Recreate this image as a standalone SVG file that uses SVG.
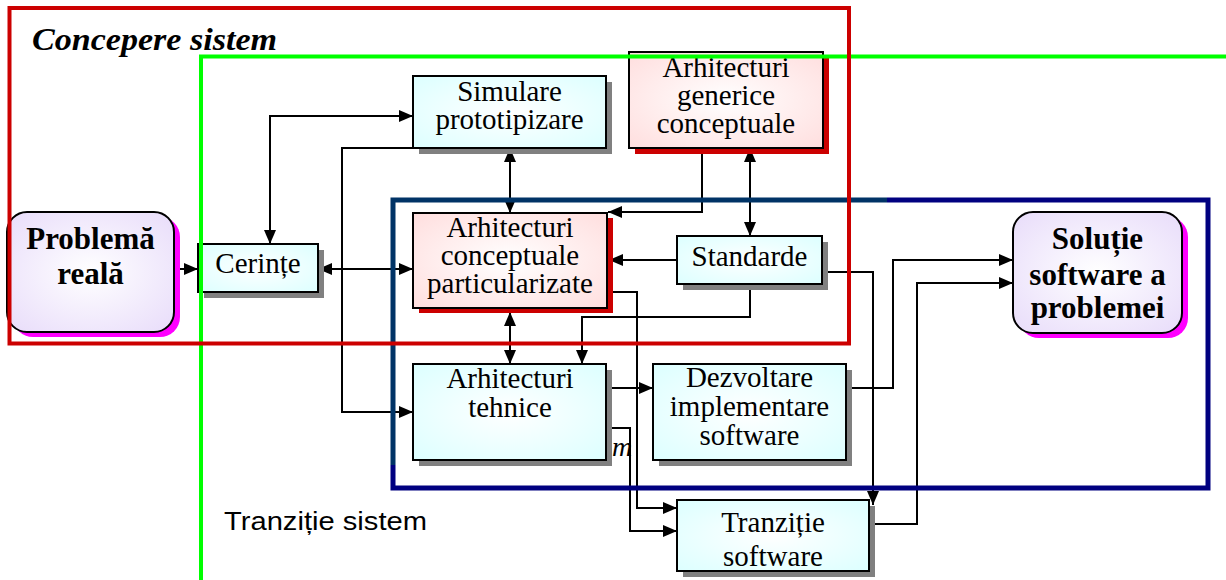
<svg xmlns="http://www.w3.org/2000/svg" width="1226" height="580" viewBox="0 0 1226 580">
  <style>
    .conn { fill: none; stroke: #000; stroke-width: 2; }
    .box { stroke: #000; stroke-width: 2; }
    .cyan { fill: url(#gCyan); }
    .pink { fill: url(#gPink); }
    .lav { fill: url(#gLav); }
    .sh-gray { fill: #808080; }
    .sh-red { fill: #cc0000; }
    .sh-mag { fill: #ff00ff; }
    .t { font-family: "Liberation Serif", "Times New Roman", serif; font-size: 29px; fill: #000; text-anchor: middle; }
    .tb { font-family: "Liberation Serif", "Times New Roman", serif; font-size: 31px; font-weight: bold; fill: #000; text-anchor: middle; }
    .frame { fill: none; }
  </style>
  <defs>
    <radialGradient id="gCyan" cx="50%" cy="50%" r="70%">
      <stop offset="0" stop-color="#ffffff"/>
      <stop offset="1" stop-color="#dcffff"/>
    </radialGradient>
    <radialGradient id="gPink" cx="50%" cy="50%" r="70%">
      <stop offset="0" stop-color="#ffffff"/>
      <stop offset="1" stop-color="#ffdede"/>
    </radialGradient>
    <radialGradient id="gLav" cx="50%" cy="50%" r="70%">
      <stop offset="0" stop-color="#ffffff"/>
      <stop offset="1" stop-color="#e8dcfa"/>
    </radialGradient>
    <marker id="arr" viewBox="0 0 14 12" refX="14" refY="6" markerWidth="14" markerHeight="12" markerUnits="userSpaceOnUse" orient="auto-start-reverse">
      <path d="M0,0 L14,6 L0,12 z" fill="#000"/>
    </marker>
  </defs>

  <!-- connectors -->
  <g id="connectors">
    <path class="conn" d="M174,269 H198" marker-end="url(#arr)"/>
    <path class="conn" d="M318,269 H413" marker-start="url(#arr)" marker-end="url(#arr)"/>
    <path class="conn" d="M270,244 V116 H413" marker-start="url(#arr)" marker-end="url(#arr)"/>
    <path class="conn" d="M413,148 H342 V412 H413" marker-end="url(#arr)"/>
    <path class="conn" d="M510,148 V213" marker-start="url(#arr)" marker-end="url(#arr)"/>
    <path class="conn" d="M702,148 V212 H608" marker-end="url(#arr)"/>
    <path class="conn" d="M750,148 V236" marker-start="url(#arr)" marker-end="url(#arr)"/>
    <path class="conn" d="M677,260 H609" marker-end="url(#arr)"/>
    <path class="conn" d="M750,284 V317 H582 V364" marker-end="url(#arr)"/>
    <path class="conn" d="M510,312 V364" marker-start="url(#arr)" marker-end="url(#arr)"/>
    <path class="conn" d="M607,292 H637 V508 H677" marker-end="url(#arr)"/>
    <path class="conn" d="M606,388 H653" marker-end="url(#arr)"/>
    <path class="conn" d="M606,428 H630 V531 H677" marker-end="url(#arr)"/>
    <path class="conn" d="M822,272 H873 V505" marker-end="url(#arr)"/>
    <path class="conn" d="M846,388 H893 V260 H1013" marker-end="url(#arr)"/>
    <path class="conn" d="M869,524 H917 V283 H1013" marker-end="url(#arr)"/>
    <text x="622" y="456" font-family="Liberation Serif, serif" font-style="italic" font-size="28" text-anchor="middle">m</text>
  </g>

  <!-- nodes -->
  <g id="problema">
    <rect class="sh-mag" x="13" y="217" width="167" height="120" rx="20"/>
    <rect class="box lav" x="7" y="212" width="167" height="120" rx="20"/>
    <text class="tb" x="90.5" y="249">Problemă</text>
    <text class="tb" x="90.5" y="284">reală</text>
  </g>

  <g id="cerinte">
    <rect class="sh-gray" x="204" y="250" width="120" height="48"/>
    <rect class="box cyan" x="198" y="244" width="120" height="48"/>
    <text class="t" x="258" y="273">Cerințe</text>
  </g>

  <g id="simulare">
    <rect class="sh-gray" x="419" y="82" width="193" height="72"/>
    <rect class="box cyan" x="413" y="76" width="193" height="72"/>
    <text class="t" x="509.5" y="101">Simulare</text>
    <text class="t" x="509.5" y="129">prototipizare</text>
  </g>

  <g id="arh-generice">
    <rect class="sh-red" x="635" y="58" width="194" height="96"/>
    <rect class="box pink" x="629" y="52" width="194" height="96"/>
    <text class="t" x="726" y="77">Arhitecturi</text>
    <text class="t" x="726" y="105">generice</text>
    <text class="t" x="726" y="133">conceptuale</text>
  </g>

  <g id="arh-particularizate">
    <rect class="sh-red" x="419" y="218" width="194" height="95"/>
    <rect class="box pink" x="413" y="213" width="194" height="95"/>
    <text class="t" x="510" y="237">Arhitecturi</text>
    <text class="t" x="510" y="265">conceptuale</text>
    <text class="t" x="510" y="293">particularizate</text>
  </g>

  <g id="standarde">
    <rect class="sh-gray" x="683" y="242" width="145" height="48"/>
    <rect class="box cyan" x="677" y="236" width="145" height="48"/>
    <text class="t" x="749.5" y="266">Standarde</text>
  </g>

  <g id="solutie">
    <rect class="sh-mag" x="1019" y="217" width="169" height="121" rx="20"/>
    <rect class="box lav" x="1013" y="212" width="169" height="121" rx="20"/>
    <text class="tb" x="1097.5" y="249">Soluție</text>
    <text class="tb" x="1097.5" y="285">software a</text>
    <text class="tb" x="1097.5" y="318">problemei</text>
  </g>

  <g id="arh-tehnice">
    <rect class="sh-gray" x="419" y="370" width="193" height="96"/>
    <rect class="box cyan" x="413" y="364" width="193" height="96"/>
    <text class="t" x="510" y="388">Arhitecturi</text>
    <text class="t" x="510" y="417">tehnice</text>
  </g>

  <g id="dezvoltare">
    <rect class="sh-gray" x="659" y="370" width="193" height="96"/>
    <rect class="box cyan" x="653" y="364" width="193" height="96"/>
    <text class="t" x="749.5" y="387">Dezvoltare</text>
    <text class="t" x="749.5" y="416">implementare</text>
    <text class="t" x="749.5" y="445">software</text>
  </g>

  <g id="tranzitie-software">
    <rect class="sh-gray" x="683" y="506" width="192" height="71"/>
    <rect class="box cyan" x="677" y="500" width="192" height="71"/>
    <text class="t" x="773" y="532">Tranziție</text>
    <text class="t" x="773" y="566">software</text>
  </g>

  <!-- grouping frames -->
  <g id="frame-tranzitie-sistem">
    <path class="frame" d="M201,580 V56.5 H1226" stroke="#00ff00" stroke-width="4"/>
    <text x="224" y="530" font-family="Liberation Sans, Arial, sans-serif" font-size="26" textLength="203" lengthAdjust="spacingAndGlyphs">Tranziție sistem</text>
  </g>

  <g id="frame-software">
    <path class="frame" d="M393,465 V200 H887" stroke="#003366" stroke-width="5"/>
    <path class="frame" d="M887,200 H1208 V488 H393 V465" stroke="#000080" stroke-width="5"/>
  </g>

  <g id="frame-concepere">
    <rect class="frame" x="9.5" y="8" width="839.5" height="335.5" stroke="#cc0000" stroke-width="4"/>
    <text x="32" y="50" font-family="Liberation Serif, Times New Roman, serif" font-size="32" font-weight="bold" font-style="italic" textLength="245" lengthAdjust="spacingAndGlyphs">Concepere sistem</text>
  </g>
</svg>
